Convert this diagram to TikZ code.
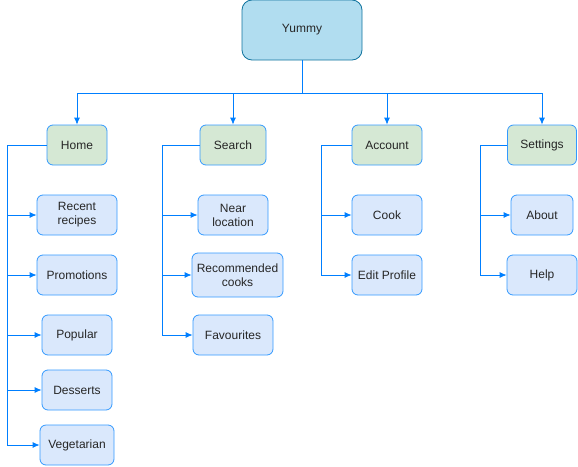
\documentclass[tikz,border=0pt]{standalone}
\usepackage{fontspec}
\setmainfont{Liberation Sans}
\usetikzlibrary{arrows.meta}

\definecolor{linkblue}{HTML}{007FFF}
\definecolor{rootfill}{HTML}{B1DDF0}
\definecolor{rootline}{HTML}{10739E}
\definecolor{menufill}{HTML}{D5E8D4}
\definecolor{itemfill}{HTML}{DAE8FC}
\definecolor{itemline}{HTML}{3399FF}

\begin{document}
\begin{tikzpicture}[x=1pt,y=-1pt,
   every node/.style={font=\fontsize{12}{14}\selectfont,text=black!85,align=center,
                      rounded corners=6pt,line width=0.8pt,inner sep=2pt},
   root/.style={draw=rootline,fill=rootfill,minimum width=120pt,minimum height=60pt,rounded corners=10pt},
   menu/.style={draw=itemline,fill=menufill,minimum height=40pt},
   item/.style={draw=itemline,fill=itemfill,minimum height=40pt},
   link/.style={draw=linkblue,line width=0.8pt,-{Latex[length=7pt,width=6pt]}}]
   \useasboundingbox (0,0) rectangle (578,466);
   % root
   \node[root] (yummy) at (302,30) {Yummy};
   % main menus
   \node[menu,minimum width=60pt] (home)     at (77,145)  {Home};
   \node[menu,minimum width=66pt] (search)   at (233,145) {Search};
   \node[menu,minimum width=70pt] (account)  at (387,145) {Account};
   \node[menu,minimum width=69pt] (settings) at (542,145) {Settings};
   % home items
   \node[item,minimum width=80pt] (recent)  at (77,215) {Recent\\recipes};
   \node[item,minimum width=80pt] (promo)   at (77,275) {Promotions};
   \node[item,minimum width=70pt] (popular) at (77,335) {Popular};
   \node[item,minimum width=70pt] (dessert) at (77,390) {Desserts};
   \node[item,minimum width=74pt] (veggie)  at (77,445) {Vegetarian};
   % search items
   \node[item,minimum width=70pt] (near)    at (233,215) {Near\\location};
   \node[item,minimum width=91pt,minimum height=44pt] (reccook) at (237.5,275) {Recommended\\cooks};
   \node[item,minimum width=80pt] (favs)    at (233,335) {Favourites};
   % account items
   \node[item,minimum width=70pt] (cook)    at (387,215) {Cook};
   \node[item,minimum width=70pt] (edit)    at (387,275) {Edit Profile};
   % settings items
   \node[item,minimum width=62pt] (about)   at (542,215) {About};
   \node[item,minimum width=70pt] (help)    at (542,275) {Help};

   \foreach \m in {home,search,account,settings}
      \draw[link] (yummy.south) -- ++(0,33) -| (\m.north);
   \foreach \c in {recent,promo,popular,dessert,veggie}
      \draw[link] (home.west) -- ++(-39,0) |- (\c.west);
   \foreach \c in {near,reccook,favs}
      \draw[link] (search.west) -- ++(-37,0) |- (\c.west);
   \foreach \c in {cook,edit}
      \draw[link] (account.west) -- ++(-30,0) |- (\c.west);
   \foreach \c in {about,help}
      \draw[link] (settings.west) -- ++(-26.5,0) |- (\c.west);
\end{tikzpicture}
\end{document}
